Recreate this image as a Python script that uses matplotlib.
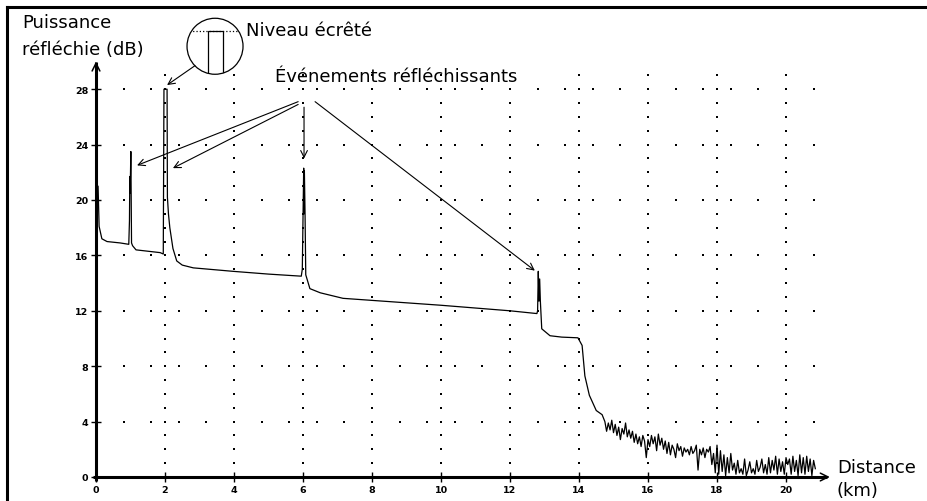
import numpy as np
import matplotlib.pyplot as plt
from matplotlib.lines import Line2D
from matplotlib.patches import Ellipse, Rectangle

# OTDR trace: distance (km) vs reflected power (dB)
trace_km = [0.00, 0.02, 0.02, 0.06, 0.09, 0.17, 0.32, 0.70, 0.95,
            0.97, 0.98, 0.99, 1.01, 1.03, 1.06, 1.16, 1.50, 1.86, 1.95,
            1.97, 2.06, 2.07, 2.10, 2.14, 2.23, 2.34, 2.50, 2.82, 3.97, 5.00, 5.95, 5.98,
            6.02, 6.03, 6.04, 6.06, 6.08, 6.20, 6.50, 7.16, 8.00, 10.0, 12.0, 12.78,
            12.80, 12.82, 12.84, 12.86, 12.88, 12.92, 13.16, 13.50, 13.97,
            14.09, 14.17, 14.30, 14.50, 14.67, 14.72]
trace_db = [22.3, 22.3, 21.0, 21.0, 18.1, 17.2, 17.0, 16.9, 16.8,
            18.5, 21.7, 20.5, 23.5, 16.9, 16.7, 16.4, 16.3, 16.2, 16.1,
            28.0, 28.0, 20.2, 19.0, 18.0, 16.5, 15.6, 15.3, 15.1, 14.85, 14.65, 14.5, 15.0,
            22.3, 19.0, 22.1, 18.9, 14.6, 13.6, 13.3, 12.9, 12.75, 12.4, 12.0, 11.8,
            12.0, 14.85, 12.7, 14.3, 12.7, 10.7, 10.2, 10.1, 10.05,
            9.5, 7.3, 5.9, 4.8, 4.5, 4.2]

# noise floor samples from 14.75 km, every 0.05 km
noise_start, noise_step = 14.75, 0.05
noise_db = [4.0, 3.3, 3.9, 3.4, 4.1, 3.2,
            3.8, 3.0, 3.6, 2.7, 3.5, 3.1, 3.9, 2.9, 3.4, 2.8,
            3.3, 2.5, 3.1, 2.4, 2.9, 2.2, 3.0, 2.6, 1.4, 2.7,
            2.2, 3.0, 2.4, 2.9, 1.9, 3.1, 2.3, 2.8, 2.0, 2.6,
            1.7, 2.5, 1.6, 2.3, 2.0, 1.4, 2.4, 1.9, 2.2, 1.5,
            2.1, 1.8, 2.0, 1.6, 2.2, 1.7, 1.9, 2.3, 0.5, 2.0,
            1.6, 2.1, 1.4, 2.0, 1.8, 2.2, 0.9, 1.7, 0.3, 2.3,
            0.2, 1.9, 0.4, 1.6, 0.1, 1.4, 0.3, 1.7, 0.5, 1.0,
            0.2, 1.2, 0.3, 0.6, 0.2, 1.3, 0.1, 0.5, 1.1, 0.3,
            0.6, 0.2, 1.2, 0.4, 0.7, 1.3, 0.3, 0.9, 0.2, 1.4,
            0.3, 1.2, 0.5, 1.5, 0.2, 1.3, 0.4, 1.1, 0.2, 1.4,
            0.9, 1.3, 0.2, 1.5, 0.4, 1.2, 0.1, 1.6, 0.3, 1.4,
            0.2, 1.5, 0.4, 1.3, 0.1, 1.2, 0.6]

x_ticks = list(range(0, 21, 2))
y_ticks = list(range(0, 29, 4))

noise_km = noise_start + noise_step * np.arange(len(noise_db))
km = np.concatenate([trace_km, noise_km])
db = np.concatenate([trace_db, noise_db])

W, H = 927, 502
fig = plt.figure(figsize=(W / 100, H / 100), dpi=100)
px_km, px_db = 34.5, 13.85
x0, y0 = 96, 478
xmax, ymax = 21.5, 30.5
ax = fig.add_axes([x0 / W, (H - y0) / H, xmax * px_km / W, ymax * px_db / H])
ax.set_xlim(0, xmax)
ax.set_ylim(0, ymax)
for s in ax.spines.values():
    s.set_visible(False)

# dotted grid
for gy in y_ticks[1:]:
    xs = np.arange(0.8, 21.0, 0.8)
    ax.plot(xs, [gy] * len(xs), ls='', marker='s', ms=1.5, mew=0, color='black')
for gx in x_ticks[1:]:
    ys = np.arange(1, 30)
    ax.plot([gx] * len(ys), ys, ls='', marker='s', ms=1.5, mew=0, color='black')

# axes with arrows
ax.plot([0, 0], [-0.3, 30.0], color='black', lw=2.2, clip_on=False, solid_capstyle='butt')
ax.plot([-0.1, 21.2], [0, 0], color='black', lw=2.2, clip_on=False, solid_capstyle='butt')
ax.annotate('', xy=(0, 30.2), xytext=(0, 29.0), annotation_clip=False,
            arrowprops=dict(arrowstyle='->', lw=1.1, mutation_scale=14, color='black'))
ax.annotate('', xy=(21.35, 0), xytext=(20.8, 0), annotation_clip=False,
            arrowprops=dict(arrowstyle='->', lw=1.1, mutation_scale=14, color='black'))

ax.set_xticks(x_ticks)
ax.set_yticks(y_ticks)
ax.set_xticklabels([str(v) for v in x_ticks], fontsize=6.8, fontweight='bold')
ax.set_yticklabels([str(v) for v in y_ticks], fontsize=6.8, fontweight='bold')
ax.tick_params(direction='inout', length=7, width=1, pad=2)

ax.plot(km, db, color='black', lw=0.9, clip_on=False)

# magnified view of the clipped peak
circ = Ellipse((3.45, 31.1), 56 / px_km, 56 / px_db, fill=False, lw=0.9,
               color='black', clip_on=False)
ax.add_patch(circ)
rect = Rectangle((3.25, 27.0), 0.43, 5.2, fill=False, lw=0.9, color='black')
ax.add_patch(rect)
rect.set_clip_box(None)
rect.set_clip_path(circ)
lvl, = ax.plot([2.6, 4.3], [32.2, 32.2], ls=':', lw=0.9, color='black')
lvl.set_clip_box(None)
lvl.set_clip_path(circ)

arr = dict(arrowstyle='->', lw=0.8, mutation_scale=12, color='black', shrinkA=0, shrinkB=0)
ax.annotate('', xy=(2.06, 28.3), xytext=(2.87, 29.7), arrowprops=arr, annotation_clip=False)
ax.annotate('', xy=(1.19, 22.5), xytext=(5.86, 27.1), arrowprops=arr, annotation_clip=False)
ax.annotate('', xy=(2.23, 22.3), xytext=(5.86, 26.9), arrowprops=arr, annotation_clip=False)
ax.annotate('', xy=(6.03, 23.0), xytext=(6.03, 26.7), arrowprops=arr, annotation_clip=False)
ax.annotate('', xy=(12.72, 14.9), xytext=(6.35, 27.1), arrowprops=arr, annotation_clip=False)

font = 'DejaVu Sans'
def ftext(px, py, s):
    fig.text(px / W, 1 - py / H, s, fontsize=13, family=font, va='baseline', ha='left')

ftext(22, 28, 'Puissance')
ftext(22, 55, 'réfléchie (dB)')
ftext(246, 36, 'Niveau écrêté')
ftext(275, 82, 'Événements réfléchissants')
ftext(837, 473, 'Distance')
ftext(837, 496, '(km)')

# outer frame
fig.add_artist(Line2D([7 / W, 7 / W], [0, 1 - 8 / H], lw=2.2, color='black',
                      transform=fig.transFigure))
fig.add_artist(Line2D([7 / W, 1], [1 - 8 / H, 1 - 8 / H], lw=2.2, color='black',
                      transform=fig.transFigure))

fig.savefig('out.png', dpi=100)
